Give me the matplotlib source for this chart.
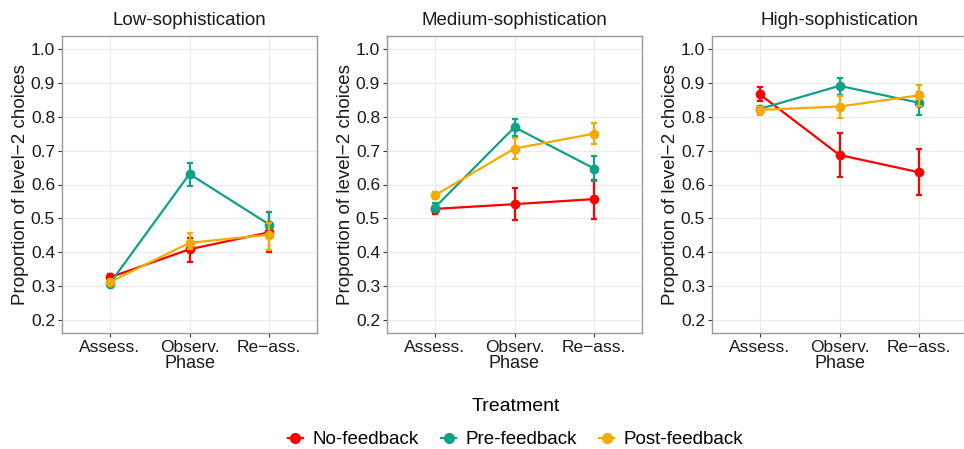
import matplotlib
matplotlib.use("Agg")
import matplotlib.pyplot as plt
from matplotlib.lines import Line2D

plt.rcParams['font.family'] = ['Liberation Sans', 'DejaVu Sans']

phases = ["Assess.", "Observ.", "Re\u2212ass."]
panels = ["Low-sophistication", "Medium-sophistication", "High-sophistication"]
treatments = ["No-feedback", "Pre-feedback", "Post-feedback"]
colors = ["#FF0000", "#0FA18A", "#F5AA00"]

# mean, lower, upper per panel per treatment
low_no = [0.326, 0.409, 0.459]
low_no_lo = [0.318, 0.372, 0.402]
low_no_hi = [0.335, 0.441, 0.520]
low_pre = [0.308, 0.631, 0.482]
low_pre_lo = [0.302, 0.596, 0.446]
low_pre_hi = [0.314, 0.664, 0.520]
low_post = [0.312, 0.428, 0.452]
low_post_lo = [0.306, 0.411, 0.408]
low_post_hi = [0.318, 0.458, 0.485]

med_no = [0.528, 0.542, 0.557]
med_no_lo = [0.513, 0.494, 0.499]
med_no_hi = [0.535, 0.590, 0.613]
med_pre = [0.532, 0.769, 0.647]
med_pre_lo = [0.522, 0.743, 0.611]
med_pre_hi = [0.544, 0.794, 0.684]
med_post = [0.568, 0.706, 0.750]
med_post_lo = [0.558, 0.676, 0.718]
med_post_hi = [0.578, 0.736, 0.782]

high_no = [0.866, 0.687, 0.636]
high_no_lo = [0.845, 0.623, 0.570]
high_no_hi = [0.889, 0.753, 0.704]
high_pre = [0.823, 0.891, 0.841]
high_pre_lo = [0.812, 0.864, 0.805]
high_pre_hi = [0.832, 0.915, 0.874]
high_post = [0.820, 0.830, 0.863]
high_post_lo = [0.804, 0.797, 0.832]
high_post_hi = [0.828, 0.862, 0.894]

data = [
    [(low_no, low_no_lo, low_no_hi), (low_pre, low_pre_lo, low_pre_hi), (low_post, low_post_lo, low_post_hi)],
    [(med_no, med_no_lo, med_no_hi), (med_pre, med_pre_lo, med_pre_hi), (med_post, med_post_lo, med_post_hi)],
    [(high_no, high_no_lo, high_no_hi), (high_pre, high_pre_lo, high_pre_hi), (high_post, high_post_lo, high_post_hi)],
]

W, H = 964, 449
fig = plt.figure(figsize=(W / 100, H / 100), dpi=100)

lefts = [62, 387, 712]
pw = 255
top, bottom = 36, 333
x = [1, 2, 3]

for i, (title, pdata) in enumerate(zip(panels, data)):
    ax = fig.add_axes([lefts[i] / W, 1 - bottom / H, pw / W, (bottom - top) / H])
    for j, (m, lo, hi) in enumerate(pdata):
        yerr = [[mm - l for mm, l in zip(m, lo)], [h - mm for mm, h in zip(m, hi)]]
        ax.errorbar(x, m, yerr=yerr, color=colors[j], lw=1.6, marker='o', ms=6,
                    capsize=2, elinewidth=1.6, capthick=1.6, zorder=3 + j)
    ax.set_xlim(0.4, 3.6)
    ax.set_ylim(0.162, 1.038)
    ax.set_yticks([0.2, 0.3, 0.4, 0.5, 0.6, 0.7, 0.8, 0.9, 1.0])
    ax.set_yticklabels(["0.2", "0.3", "0.4", "0.5", "0.6", "0.7", "0.8", "0.9", "1.0"])
    ax.set_xticks(x)
    ax.set_xticklabels(phases)
    ax.grid(True, color="#EBEBEB", lw=0.9, zorder=0)
    ax.set_axisbelow(True)
    for s in ax.spines.values():
        s.set_color("#999999")
        s.set_linewidth(1)
    ax.tick_params(axis='both', labelsize=12.5, colors="#333333", length=3, width=0.8,
                   labelcolor="#1a1a1a", pad=2)
    ax.set_title(title, fontsize=13.5, pad=8, color="#1a1a1a")
    ax.set_xlabel("Phase", fontsize=13, labelpad=0, color="#1a1a1a")
    ax.set_ylabel("Proportion of level\u22122 choices", fontsize=13.5, labelpad=1, color="#1a1a1a")

handles = [Line2D([0], [0], color=c, marker='o', ms=7, lw=1.6) for c in colors]
leg = fig.legend(handles, treatments, loc='center', bbox_to_anchor=(0.535, 1 - 423 / H),
                 ncol=3, frameon=False, fontsize=13.5, title="Treatment", title_fontsize=14,
                 handlelength=0.8, handletextpad=0.5, columnspacing=1.2)
leg._legend_box.sep = 12

fig.savefig("out.png", dpi=100)
